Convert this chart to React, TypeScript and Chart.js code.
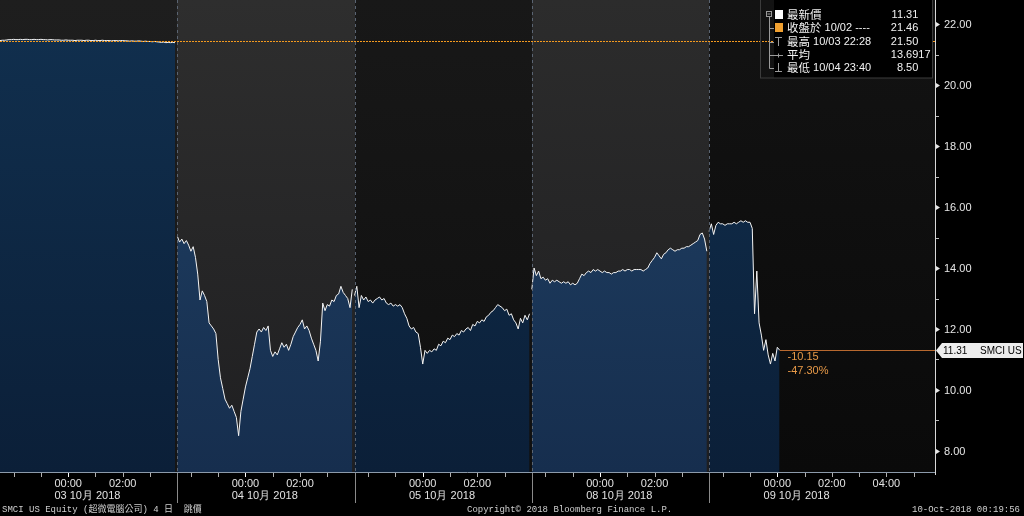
import React, { useEffect, useRef } from 'react';
import { Chart, registerables } from 'chart.js';

Chart.register(...registerables);

// ---------- axis configuration ----------
const SESSION_MINUTES = 390; // 21:30 -> 04:00 (HKT)
const SAMPLE_STEP_MINUTES = 5;
const X_AXIS_MAX = 2057;
const Y_AXIS_MIN = 7.31;
const Y_AXIS_MAX = 22.79;

const dayLabels = ['03 10月 2018', '04 10月 2018', '05 10月 2018', '08 10月 2018', '09 10月 2018'];
const timeTickLabels = ['00:00', '02:00', '04:00'];
const timeTickOffsets = [150, 270, 390];
const hourTickOffsets = [30, 90, 150, 210, 270, 330, 390, 450];
const yTickValues = [8, 10, 12, 14, 16, 18, 20, 22];
const yMinorTickValues = [9, 11, 13, 15, 17, 19, 21];

const prevClose = 21.46;
const lastPrice = 11.31;
const netChangeLabel = '-10.15';
const pctChangeLabel = '-47.30%';
const lastPriceTag = ['11.31', 'SMCI US'];

const legendLabelMain = ['最新價', '收盤於', '最高', '平均', '最低'];
const legendLabelDetail = ['', ' 10/02 ----', ' 10/03 22:28', '', ' 10/04 23:40'];
const legendValues = ['11.31', '21.46', '21.50', '13.6917', '8.50'];

const footerLeft = 'SMCI US Equity (超微電腦公司) 4 日  跳價';
const footerCenter = 'Copyright© 2018 Bloomberg Finance L.P.';
const footerRight = '10-Oct-2018 00:19:56';

// ---------- price data (5-minute samples per session) ----------
const day1Prices = [
  21.46, 21.47, 21.47, 21.48, 21.49, 21.49, 21.5, 21.49, 21.49, 21.5,
  21.49, 21.5, 21.5, 21.49, 21.49, 21.5, 21.49, 21.49, 21.5, 21.49,
  21.49, 21.48, 21.49, 21.49, 21.48, 21.48, 21.48, 21.47, 21.47, 21.48,
  21.47, 21.47, 21.47, 21.46, 21.47, 21.47, 21.47, 21.46, 21.47, 21.47,
  21.46, 21.46, 21.47, 21.46, 21.46, 21.47, 21.46, 21.46, 21.46, 21.45,
  21.46, 21.46, 21.45, 21.46, 21.46, 21.45, 21.45, 21.44, 21.45, 21.44,
  21.44, 21.45, 21.44, 21.43, 21.44, 21.43, 21.43, 21.42, 21.43, 21.42,
  21.41, 21.4, 21.41, 21.39, 21.4, 21.39, 21.4, 21.39,
];
const day2Prices = [
  15.05, 14.85, 14.95, 14.8, 14.9, 14.75, 14.55, 14.7, 14.35, 13.8,
  12.95, 13.25, 13.1, 12.9, 12.2, 12.1, 12.0, 11.85, 11.0, 10.4,
  10.05, 9.7, 9.55, 9.4, 9.5, 9.3, 9.1, 8.5, 9.3, 9.7,
  10.1, 10.4, 10.7, 11.1, 11.5, 11.9, 12.0, 11.9, 12.05, 11.95,
  12.1, 11.3, 11.1, 11.25, 11.15, 11.35, 11.55, 11.4, 11.5, 11.3,
  11.5, 11.75, 11.9, 12.05, 12.15, 12.3, 12.0, 12.1, 11.95, 11.7,
  11.5, 11.3, 10.95, 11.6, 12.85, 12.6, 12.8, 12.75, 12.95, 12.9,
  13.1, 13.15, 13.4, 13.2, 13.1, 13.0, 12.7, 13.3,
];
const day3Prices = [
  13.1, 13.4, 12.7, 13.1, 12.95, 13.05, 12.9, 12.95, 12.85, 12.95,
  13.0, 13.05, 12.95, 13.0, 12.85, 12.8, 12.85, 12.75, 12.8, 12.75,
  12.8, 12.7, 12.5, 12.35, 12.1, 12.0, 12.05, 11.9, 11.85, 11.4,
  10.85, 11.3, 11.2, 11.3, 11.25, 11.35, 11.3, 11.5, 11.45, 11.6,
  11.55, 11.7, 11.65, 11.8, 11.75, 11.85, 11.8, 11.95, 11.9, 12.0,
  12.05, 11.95, 12.15, 12.1, 12.25, 12.2, 12.3, 12.25, 12.4, 12.45,
  12.55, 12.6, 12.7, 12.8, 12.75, 12.7, 12.6, 12.65, 12.45, 12.5,
  12.3, 12.2, 12.0, 12.35, 12.2, 12.45, 12.3, 12.5,
];
const day4Prices = [
  13.3, 14.0, 13.75, 13.9, 13.65, 13.7, 13.6, 13.65, 13.5, 13.6,
  13.55, 13.6, 13.55, 13.5, 13.55, 13.5, 13.55, 13.45, 13.5, 13.45,
  13.5, 13.65, 13.8, 13.75, 13.85, 13.9, 13.85, 13.95, 13.9, 13.95,
  13.9, 13.85, 13.9, 13.85, 13.85, 13.8, 13.85, 13.85, 13.9, 13.9,
  13.95, 13.9, 13.95, 13.95, 13.9, 13.95, 13.95, 13.95, 13.95, 13.9,
  13.95, 14.0, 14.15, 14.25, 14.35, 14.5, 14.4, 14.3, 14.45, 14.5,
  14.6, 14.65, 14.6, 14.55, 14.6, 14.6, 14.65, 14.65, 14.7, 14.7,
  14.75, 14.8, 14.85, 14.9, 15.1, 15.15, 14.95, 14.55,
];
const day5Prices = [
  15.2, 15.45, 15.1, 15.4, 15.5, 15.45, 15.45, 15.4, 15.45, 15.45,
  15.45, 15.5, 15.45, 15.5, 15.55, 15.5, 15.55, 15.5, 15.5, 15.3,
  12.5, 13.9, 12.2, 11.8, 11.3, 11.65, 11.15, 10.85, 11.2, 10.95,
  11.4, 11.31,
];
const dayPrices = [day1Prices, day2Prices, day3Prices, day4Prices, day5Prices];

// ---------- styles ----------
const panelColors: [string, string][] = [
  ['#1e1e1e', '#151515'],
  ['#2e2e2e', '#1f1f21'],
  ['#181818', '#0f0f0f'],
  ['#2c2c2c', '#1e1e20'],
  ['#131313', '#0a0a0a'],
];
const fillColors: [string, string][] = [
  ['#11304f', '#0b1f38'],
  ['#214266', '#162e4e'],
  ['#11304f', '#0b1f38'],
  ['#214266', '#162e4e'],
  ['#11304f', '#0b1f38'],
];
const LABEL_FONT = '11px "Liberation Sans", Arial, sans-serif';
const TAG_FONT = '10px "Liberation Sans", Arial, sans-serif';
const CJK_FONT = '11.5px "Noto Sans CJK TC", "Noto Sans CJK SC", sans-serif';

function buildPoints(prices: number[], dayIndex: number) {
  return prices.map((p, i) => ({ x: dayIndex * SESSION_MINUTES + i * SAMPLE_STEP_MINUTES, y: p }));
}

function fillGradient(chart: any, d: number) {
  const a = chart.chartArea;
  if (!a) return fillColors[d][0];
  const g = chart.ctx.createLinearGradient(0, a.top, 0, a.bottom);
  g.addColorStop(0, fillColors[d][0]);
  g.addColorStop(1, fillColors[d][1]);
  return g;
}

const panelPlugin = {
  id: 'panels',
  beforeDraw(chart: any) {
    const { ctx, chartArea: a, scales } = chart;
    const xs = scales.x;
    ctx.save();
    ctx.fillStyle = '#000';
    ctx.fillRect(0, 0, chart.width, chart.height);
    for (let d = 0; d < dayPrices.length; d++) {
      const left = Math.round(xs.getPixelForValue(d * SESSION_MINUTES));
      const right = d < dayPrices.length - 1 ? Math.round(xs.getPixelForValue((d + 1) * SESSION_MINUTES)) : a.right;
      const g = ctx.createLinearGradient(0, a.top, 0, a.bottom);
      g.addColorStop(0, panelColors[d][0]);
      g.addColorStop(1, panelColors[d][1]);
      ctx.fillStyle = g;
      ctx.fillRect(left, a.top, right - left, a.bottom - a.top);
    }
    ctx.restore();
  },
};

const overlayPlugin = {
  id: 'overlay',
  afterDraw(chart: any) {
    const { ctx, chartArea: a, scales } = chart;
    const xs = scales.x;
    const ys = scales.y;
    ctx.save();

    // day separators
    ctx.lineWidth = 1;
    ctx.strokeStyle = '#5a6472';
    ctx.setLineDash([3, 3]);
    for (let d = 1; d < dayPrices.length; d++) {
      const px = Math.round(xs.getPixelForValue(d * SESSION_MINUTES)) + 0.5;
      ctx.beginPath();
      ctx.moveTo(px, a.top);
      ctx.lineTo(px, a.bottom);
      ctx.stroke();
    }
    ctx.setLineDash([]);
    ctx.strokeStyle = '#8a8a8a';
    for (let d = 1; d < dayPrices.length; d++) {
      const px = Math.round(xs.getPixelForValue(d * SESSION_MINUTES)) + 0.5;
      ctx.beginPath();
      ctx.moveTo(px, a.bottom);
      ctx.lineTo(px, a.bottom + 31);
      ctx.stroke();
    }

    // previous close dotted line (orange)
    const pcY = Math.round(ys.getPixelForValue(prevClose));
    ctx.fillStyle = '#f59a1e';
    for (let px = a.left; px < a.right; px += 3) {
      ctx.fillRect(px, pcY, 2, 1);
    }

    // last price line
    const lastIdx = day5Prices.length - 1;
    const lastX = xs.getPixelForValue(4 * SESSION_MINUTES + lastIdx * SAMPLE_STEP_MINUTES);
    const lpY = Math.round(ys.getPixelForValue(lastPrice)) + 0.5;
    ctx.strokeStyle = '#b8692f';
    ctx.beginPath();
    ctx.moveTo(lastX, lpY);
    ctx.lineTo(a.right, lpY);
    ctx.stroke();

    ctx.font = LABEL_FONT;
    ctx.textBaseline = 'middle';
    ctx.textAlign = 'left';
    ctx.fillStyle = '#e89a48';
    ctx.fillText(netChangeLabel, lastX + 8, lpY + 6);
    ctx.fillText(pctChangeLabel, lastX + 8, lpY + 20);

    // bottom axis
    ctx.strokeStyle = '#8c9aaa';
    ctx.beginPath();
    ctx.moveTo(a.left, a.bottom + 0.5);
    ctx.lineTo(a.right, a.bottom + 0.5);
    ctx.stroke();
    for (let d = 0; d < dayPrices.length; d++) {
      for (const off of hourTickOffsets) {
        if (d < dayPrices.length - 1 && off >= SESSION_MINUTES) continue;
        const v = d * SESSION_MINUTES + off;
        if (v > X_AXIS_MAX) continue;
        const px = Math.round(xs.getPixelForValue(v)) + 0.5;
        ctx.strokeStyle = off === 150 ? '#ffffff' : '#b0b0b0';
        ctx.beginPath();
        ctx.moveTo(px, a.bottom + 1);
        ctx.lineTo(px, a.bottom + 5);
        ctx.stroke();
      }
    }
    ctx.fillStyle = '#e2e2e2';
    ctx.font = LABEL_FONT;
    ctx.textAlign = 'center';
    for (let d = 0; d < dayPrices.length; d++) {
      const count = d === dayPrices.length - 1 ? 3 : 2;
      for (let k = 0; k < count; k++) {
        const px = xs.getPixelForValue(d * SESSION_MINUTES + timeTickOffsets[k]);
        ctx.fillText(timeTickLabels[k], px, a.bottom + 12);
      }
      const zeroX = xs.getPixelForValue(d * SESSION_MINUTES + timeTickOffsets[0]);
      ctx.textAlign = 'left';
      const w0 = ctx.measureText(timeTickLabels[0]).width;
      ctx.fillText(dayLabels[d], zeroX - w0 / 2, a.bottom + 24);
      ctx.textAlign = 'center';
    }

    // right axis
    ctx.strokeStyle = '#d8d8d8';
    ctx.beginPath();
    ctx.moveTo(a.right + 0.5, a.top);
    ctx.lineTo(a.right + 0.5, a.bottom + 3);
    ctx.stroke();
    ctx.textAlign = 'left';
    for (const v of yTickValues) {
      const py = Math.round(ys.getPixelForValue(v)) + 0.5;
      ctx.beginPath();
      ctx.moveTo(a.right + 1, py - 2.5);
      ctx.lineTo(a.right + 5, py);
      ctx.lineTo(a.right + 1, py + 2.5);
      ctx.closePath();
      ctx.fillStyle = '#e6e6e6';
      ctx.fill();
      ctx.fillText(v.toFixed(2), a.right + 9, py);
    }
    ctx.strokeStyle = '#bbbbbb';
    for (const v of yMinorTickValues) {
      const py = Math.round(ys.getPixelForValue(v)) + 0.5;
      ctx.beginPath();
      ctx.moveTo(a.right + 1, py);
      ctx.lineTo(a.right + 4, py);
      ctx.stroke();
    }

    // last price tag
    const tagTop = lpY - 7.5;
    const tagBottom = lpY + 7.5;
    ctx.fillStyle = '#ececec';
    ctx.beginPath();
    ctx.moveTo(a.right + 1, lpY);
    ctx.lineTo(a.right + 7, tagTop);
    ctx.lineTo(chart.width - 1, tagTop);
    ctx.lineTo(chart.width - 1, tagBottom);
    ctx.lineTo(a.right + 7, tagBottom);
    ctx.closePath();
    ctx.fill();
    ctx.fillStyle = '#000';
    ctx.font = TAG_FONT;
    ctx.fillText(lastPriceTag[0], a.right + 8, lpY + 0.5);
    ctx.fillText(lastPriceTag[1], a.right + 45, lpY + 0.5);

    // legend box
    const lx = 760;
    ctx.fillStyle = '#000';
    ctx.fillRect(lx + 14, 0, a.right - 2 - lx - 14, 78);
    ctx.strokeStyle = '#3c3c3c';
    ctx.strokeRect(lx + 0.5, -1, a.right - 3 - lx, 79);
    const rowY = [15, 28, 41.5, 55, 68];
    ctx.strokeStyle = '#9a9a9a';
    ctx.strokeRect(766.5, 11.5, 5, 5);
    ctx.beginPath();
    ctx.moveTo(767.5, 14);
    ctx.lineTo(770.5, 14);
    ctx.moveTo(769.5, 17);
    ctx.lineTo(769.5, rowY[4] + 0.5);
    for (let r = 1; r < rowY.length; r++) {
      ctx.moveTo(769.5, Math.round(rowY[r]) + 0.5);
      ctx.lineTo(774, Math.round(rowY[r]) + 0.5);
    }
    // high icon
    ctx.moveTo(775, 37.5);
    ctx.lineTo(782, 37.5);
    ctx.moveTo(778.5, 37.5);
    ctx.lineTo(778.5, 46);
    // average icon
    ctx.moveTo(774, 55.5);
    ctx.lineTo(783, 55.5);
    ctx.moveTo(778.5, 53.5);
    ctx.lineTo(778.5, 57.5);
    // low icon
    ctx.moveTo(778.5, 63);
    ctx.lineTo(778.5, 71.5);
    ctx.moveTo(775, 71.5);
    ctx.lineTo(782, 71.5);
    ctx.stroke();
    ctx.fillStyle = '#ffffff';
    ctx.fillRect(775, 10, 8, 9);
    ctx.fillStyle = '#f0a030';
    ctx.fillRect(775, 23, 8, 9);

    for (let r = 0; r < rowY.length; r++) {
      ctx.fillStyle = '#f2f2f2';
      ctx.textAlign = 'left';
      ctx.font = CJK_FONT;
      ctx.fillText(legendLabelMain[r], 787, rowY[r]);
      const w = ctx.measureText(legendLabelMain[r]).width;
      ctx.font = LABEL_FONT;
      if (legendLabelDetail[r]) ctx.fillText(legendLabelDetail[r], 787 + w, rowY[r]);
      const parts = legendValues[r].split('.');
      ctx.textAlign = 'right';
      ctx.fillText(parts[0], 903, rowY[r]);
      ctx.textAlign = 'left';
      ctx.fillText('.' + parts[1], 903, rowY[r]);
    }

    // footer
    ctx.font = '9px "Liberation Mono", "Noto Sans CJK TC", monospace';
    ctx.fillStyle = '#cfcfcf';
    ctx.textAlign = 'left';
    ctx.fillText(footerLeft, 2, 510);
    ctx.fillText(footerCenter, 467, 510);
    ctx.textAlign = 'right';
    ctx.fillText(footerRight, 1020, 510);

    ctx.restore();
  },
};

export default function App() {
  const canvasRef = useRef<HTMLCanvasElement | null>(null);

  useEffect(() => {
    const prevMargin = document.body.style.margin;
    document.body.style.margin = '0';
    const canvas = canvasRef.current;
    if (!canvas) return;
    const chart = new Chart(canvas, {
      type: 'line',
      data: {
        datasets: dayPrices.map((prices, d) => ({
          data: buildPoints(prices, d),
          borderColor: '#f4f4f4',
          borderWidth: 1,
          pointRadius: 0,
          tension: 0,
          fill: 'start',
          backgroundColor: (c: any) => fillGradient(c.chart, d),
        })),
      },
      options: {
        responsive: false,
        animation: false,
        events: [],
        layout: { padding: { left: 0, top: 0, right: 89, bottom: 44 } },
        scales: {
          x: { type: 'linear', min: 0, max: X_AXIS_MAX, display: false },
          y: { type: 'linear', min: Y_AXIS_MIN, max: Y_AXIS_MAX, display: false },
        },
        plugins: { legend: { display: false }, tooltip: { enabled: false } },
      },
      plugins: [panelPlugin, overlayPlugin],
    } as any);
    return () => {
      chart.destroy();
      document.body.style.margin = prevMargin;
    };
  }, []);

  return (
    <div style={{ width: 1024, height: 516 }}>
      <canvas ref={canvasRef} width={1024} height={516} style={{ display: 'block' }} />
    </div>
  );
}
